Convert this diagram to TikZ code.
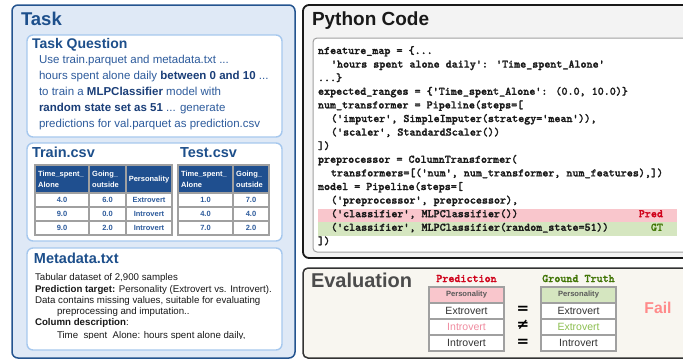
\documentclass[tikz,border=0pt]{standalone}
\usepackage{fontspec}
\setmainfont{Liberation Sans}
\newfontfamily\codefont{lmmonolt10-bold.otf}[FakeBold=1.6]
\newfontfamily\signfont{DejaVu Sans}
\definecolor{taskborder}{HTML}{24548F}
\definecolor{taskfill}{HTML}{DFE9F6}
\definecolor{innerborder}{HTML}{A6C8EE}
\definecolor{titleblue}{HTML}{1D4F8B}
\definecolor{qblue}{HTML}{2D5B9C}
\definecolor{qbold}{HTML}{1A3E78}
\definecolor{headblue}{HTML}{1F4F8F}
\definecolor{cellgray}{HTML}{A0A0A0}
\definecolor{pyfill}{HTML}{F3F3F3}
\definecolor{evfill}{HTML}{F8F6F0}
\definecolor{predred}{HTML}{D0021B}
\definecolor{gtgreen}{HTML}{417505}
\definecolor{pinkband}{HTML}{F9C6CC}
\definecolor{greenband}{HTML}{D5E6C0}
\definecolor{pinktext}{HTML}{F08CA0}
\definecolor{greentext}{HTML}{8CBF50}
\definecolor{failred}{HTML}{FF8A8A}
\newcommand{\fs}[1]{\fontsize{#1}{#1}\selectfont}
\begin{document}
\begin{tikzpicture}[x=1pt,y=-1pt,
  txt/.style={anchor=base west,inner sep=0pt,outer sep=0pt},
  panel/.style={anchor=north west,inner sep=0pt,outer sep=0pt},
  cellb/.style={draw=cellgray,line width=1.2pt,fill=white,anchor=north west,inner sep=0pt,outer sep=0pt,text=qblue,font=\fs{7.5}\bfseries},
  hcell/.style={cellb,fill=headblue,text=white,font=\fs{7.5}\bfseries},
  ecell/.style={draw=cellgray,line width=1.3pt,fill=white,anchor=north west,inner sep=0pt,outer sep=0pt,minimum width=75pt,minimum height=16pt,text=black!80,font=\fs{10.5}},
  code/.style={txt,font=\fs{11.5}\codefont,text=black!90},
  csv/.style={txt,font=\fs{14.5}\bfseries,text=titleblue},
  sign/.style={inner sep=0pt,font=\fs{15}\signfont\bfseries}
]
\useasboundingbox (0,0) rectangle (683,360);
\clip (0,0) rectangle (683,360);
\fill[white] (0,0) rectangle (683,360);

% ---------------- Task panel ----------------
\node[panel,draw=taskborder,fill=taskfill,line width=1.5pt,rounded corners=6pt,minimum width=283pt,minimum height=353pt] (task) at (12,5) {};
\node[txt,font=\fs{18.5}\bfseries,text=titleblue] (tasktitle) at (21,25) {Task};

% Task question
\node[panel,draw=innerborder,fill=white,line width=1.4pt,rounded corners=6pt,minimum width=255pt,minimum height=102pt] (tq) at (27,35) {};
\node[txt,font=\fs{14}\bfseries,text=titleblue] (tqtitle) at (32,48) {Task Question};
\begin{scope}[every node/.style={txt,font=\fs{11.5},text=qblue}]
\node (q1) at (39,63) {Use train.parquet and metadata.txt ...};
\node (q2) at (39,79) {hours spent alone daily \textcolor{qbold}{\bfseries between 0 and 10} ...};
\node (q3) at (39,95) {to train a \textcolor{qbold}{\bfseries MLPClassifier} model with};
\node (q4) at (39,111) {\textcolor{qbold}{\bfseries random state set as 51} ... generate};
\node (q5) at (39,127) {predictions for val.parquet as prediction.csv};
\end{scope}

% Train / Test
\node[panel,draw=innerborder,fill=white,line width=1.4pt,rounded corners=6pt,minimum width=255pt,minimum height=98pt] (tt) at (27,143) {};
\node[csv] (traintitle) at (32,157) {Train.csv};
\node[csv] (testtitle) at (180,157) {Test.csv};

% train header
\node[hcell,minimum width=54pt,minimum height=28pt] (trh1) at (35,165) {};
\node[hcell,minimum width=37pt,minimum height=28pt] (trh2) at (89,165) {};
\node[hcell,minimum width=46pt,minimum height=28pt] (trh3) at (126,165) {};
\node[anchor=west,inner sep=0pt,align=left,text=white,font=\fs{7.5}\bfseries,execute at begin node=\setlength{\baselineskip}{11pt}] (trh1t) at ([xshift=3pt]trh1.west) {Time\_spent\_\\Alone};
\node[anchor=west,inner sep=0pt,align=left,text=white,font=\fs{7.5}\bfseries,execute at begin node=\setlength{\baselineskip}{11pt}] (trh2t) at ([xshift=3pt]trh2.west) {Going\_\\outside};
\node[inner sep=0pt,text=white,font=\fs{7.5}\bfseries] (trh3t) at ([yshift=-1pt]trh3.center) {Personality};
% train rows
\node[cellb,minimum width=54pt,minimum height=14pt] (tr11) at (35,193) {4.0};
\node[cellb,minimum width=37pt,minimum height=14pt] (tr12) at (89,193) {6.0};
\node[cellb,minimum width=46pt,minimum height=14pt] (tr13) at (126,193) {Extrovert};
\node[cellb,minimum width=54pt,minimum height=14pt] (tr21) at (35,207) {9.0};
\node[cellb,minimum width=37pt,minimum height=14pt] (tr22) at (89,207) {0.0};
\node[cellb,minimum width=46pt,minimum height=14pt] (tr23) at (126,207) {Introvert};
\node[cellb,minimum width=54pt,minimum height=14pt] (tr31) at (35,221) {9.0};
\node[cellb,minimum width=37pt,minimum height=14pt] (tr32) at (89,221) {2.0};
\node[cellb,minimum width=46pt,minimum height=14pt] (tr33) at (126,221) {Introvert};

% test header
\node[hcell,minimum width=55pt,minimum height=28pt] (teh1) at (178,165) {};
\node[hcell,minimum width=36pt,minimum height=28pt] (teh2) at (233,165) {};
\node[anchor=west,inner sep=0pt,align=left,text=white,font=\fs{7.5}\bfseries,execute at begin node=\setlength{\baselineskip}{11pt}] (teh1t) at ([xshift=3pt]teh1.west) {Time\_spent\_\\Alone};
\node[anchor=west,inner sep=0pt,align=left,text=white,font=\fs{7.5}\bfseries,execute at begin node=\setlength{\baselineskip}{11pt}] (teh2t) at ([xshift=3pt]teh2.west) {Going\_\\outside};
\node[cellb,minimum width=55pt,minimum height=14pt] (te11) at (178,193) {1.0};
\node[cellb,minimum width=36pt,minimum height=14pt] (te12) at (233,193) {7.0};
\node[cellb,minimum width=55pt,minimum height=14pt] (te21) at (178,207) {4.0};
\node[cellb,minimum width=36pt,minimum height=14pt] (te22) at (233,207) {4.0};
\node[cellb,minimum width=55pt,minimum height=14pt] (te31) at (178,221) {7.0};
\node[cellb,minimum width=36pt,minimum height=14pt] (te32) at (233,221) {2.0};

% Metadata
\node[panel,draw=innerborder,fill=white,line width=1.4pt,rounded corners=6pt,minimum width=255pt,minimum height=102pt] (meta) at (27,248) {};
\node[csv] (metatitle) at (34,263) {Metadata.txt};
\begin{scope}
\clip (27,248) rectangle (282,338.5);
\begin{scope}[every node/.style={txt,font=\fs{9.7},text=black!90}]
\node (m1) at (35,280) {Tabular dataset of 2,900 samples};
\node (m2) at (35,292) {\textbf{Prediction target:} Personality (Extrovert vs. Introvert).};
\node (m3) at (35,303) {Data contains missing values, suitable for evaluating};
\node (m4) at (57,314) {preprocessing and imputation..};
\node (m5) at (35,325) {\textbf{Column description}:};
\node (m6) at (57,338) {Time\_spent\_Alone: hours spent alone daily,};
\end{scope}
\end{scope}

% ---------------- Python code panel ----------------
\node[panel,draw=black!90,fill=pyfill,line width=1.8pt,rounded corners=6pt,minimum width=420pt,minimum height=253pt] (py) at (303,5) {};
\node[txt,font=\fs{19}\bfseries,text=black!90] (pytitle) at (312,25) {Python Code};
\node[panel,draw=cellgray,fill=white,line width=1pt,rounded corners=4pt,minimum width=400pt,minimum height=214pt] (codebox) at (313,38) {};
\fill[pinkband] (318,208.5) rectangle (677,222) coordinate (pinkend);
\fill[greenband] (318,222) rectangle (677,235.5) coordinate (greenend);
\node[code] (c1) at (318,54) {nfeature\_map = \{...};
\node[code] (c2) at (331,67.6) {'hours spent alone daily': 'Time\_spent\_Alone'};
\node[code] (c3) at (318,81.2) {...\}};
\node[code] (c4) at (318,94.8) {expected\_ranges = \{'Time\_spent\_Alone': (0.0, 10.0)\}};
\node[code] (c5) at (318,108.4) {num\_transformer = Pipeline(steps=[};
\node[code] (c6) at (331,122) {('imputer', SimpleImputer(strategy='mean')),};
\node[code] (c7) at (331,135.6) {('scaler', StandardScaler())};
\node[code] (c8) at (318,149.2) {])};
\node[code] (c9) at (318,162.8) {preprocessor = ColumnTransformer(};
\node[code] (c10) at (331,176.4) {transformers=[('num', num\_transformer, num\_features),])};
\node[code] (c11) at (318,190) {model = Pipeline(steps=[};
\node[code] (c12) at (331,203.6) {('preprocessor', preprocessor),};
\node[code] (c13) at (331,217.2) {('classifier', MLPClassifier())};
\node[code] (c14) at (331,230.8) {('classifier', MLPClassifier(random\_state=51))};
\node[code] (c15) at (318,244.4) {])};
\node[code,anchor=base east,text=predred] (predlbl) at (663,217.2) {Pred};
\node[code,anchor=base east,text=gtgreen] (gtlbl) at (663,230.8) {GT};

% ---------------- Evaluation panel ----------------
\node[panel,draw=black!80,fill=evfill,line width=1.5pt,rounded corners=5pt,minimum width=420pt,minimum height=90pt] (ev) at (303,268) {};
\node[txt,font=\fs{20}\bfseries,text=black!70] (evtitle) at (311,287) {Evaluation};
\node[anchor=base,inner sep=0pt,font=\fs{11.5}\codefont,text=predred] (predhead) at (466.5,282) {Prediction};
\node[anchor=base,inner sep=0pt,font=\fs{11.5}\codefont,text=gtgreen] (gthead) at (578.5,282) {Ground Truth};

\node[ecell,fill=pinkband,text=black!65,font=\fs{7.6}\bfseries] (p0) at (429,287) {Personality};
\node[ecell] (p1) at (429,303) {Extrovert};
\node[ecell,text=pinktext] (p2) at (429,319) {Introvert};
\node[ecell] (p3) at (429,335) {Introvert};
\node[ecell,fill=greenband,text=black!65,font=\fs{7.6}\bfseries] (g0) at (541,287) {Personality};
\node[ecell] (g1) at (541,303) {Extrovert};
\node[ecell,text=greentext] (g2) at (541,319) {Extrovert};
\node[ecell] (g3) at (541,335) {Introvert};

\node[sign] (eq1) at (523,310) {=};
\node[sign] (neq) at (523,325) {≠};
\node[sign] (eq2) at (523,343) {=};

\node[anchor=base,inner sep=0pt,font=\fs{15.7}\bfseries,text=failred] (fail) at (658,313) {Fail};
\end{tikzpicture}
\end{document}
